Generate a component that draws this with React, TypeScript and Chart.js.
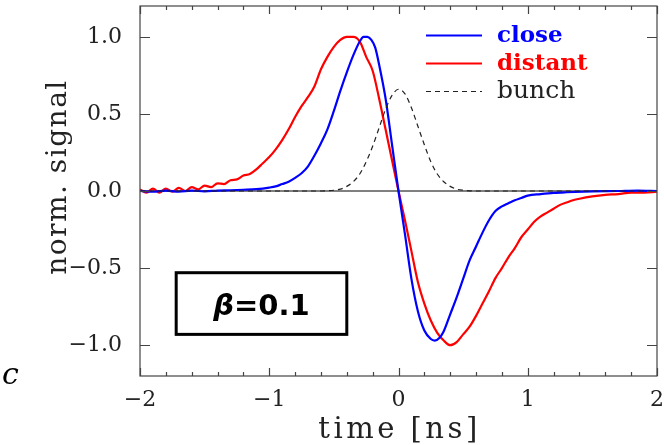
import React, { useEffect, useRef } from "react";
import { Chart, registerables } from "chart.js";
Chart.register(...registerables);

// ---- data ----
const closeTime = [-2.0, -1.9, -1.8, -1.7, -1.6, -1.5, -1.4, -1.3, -1.2, -1.1, -1.0, -0.95, -0.9, -0.85, -0.8, -0.75, -0.7, -0.65, -0.6, -0.55, -0.5, -0.45, -0.4, -0.35, -0.3, -0.27, -0.24, -0.21, -0.18, -0.15, -0.1, -0.05, 0.0, 0.05, 0.1, 0.15, 0.2, 0.25, 0.28, 0.32, 0.35, 0.4, 0.45, 0.5, 0.55, 0.6, 0.65, 0.7, 0.75, 0.8, 0.85, 0.9, 0.95, 1.0, 1.1, 1.2, 1.3, 1.5, 1.7, 1.85, 2.0];
const closeSignal = [0.0, -0.005, 0.003, -0.004, 0.002, -0.002, 0.003, 0.005, 0.008, 0.012, 0.022, 0.03, 0.045, 0.06, 0.085, 0.115, 0.16, 0.23, 0.31, 0.4, 0.52, 0.65, 0.77, 0.88, 0.97, 1.0, 1.0, 0.98, 0.93, 0.82, 0.6, 0.3, 0.0, -0.28, -0.57, -0.78, -0.905, -0.96, -0.97, -0.95, -0.91, -0.8, -0.69, -0.57, -0.45, -0.36, -0.27, -0.19, -0.13, -0.1, -0.08, -0.06, -0.045, -0.03, -0.02, -0.012, -0.008, -0.003, 0.0, 0.003, 0.0];

const distantTime = [-2.0, -1.95, -1.9, -1.85, -1.8, -1.75, -1.7, -1.65, -1.6, -1.55, -1.5, -1.45, -1.4, -1.35, -1.3, -1.25, -1.2, -1.15, -1.1, -1.05, -1.0, -0.95, -0.9, -0.85, -0.8, -0.75, -0.7, -0.65, -0.6, -0.55, -0.5, -0.45, -0.4, -0.35, -0.3, -0.25, -0.2, -0.15, -0.1, -0.05, 0.0, 0.05, 0.1, 0.15, 0.2, 0.25, 0.3, 0.35, 0.4, 0.45, 0.5, 0.55, 0.6, 0.65, 0.7, 0.75, 0.8, 0.85, 0.9, 0.95, 1.0, 1.05, 1.1, 1.15, 1.2, 1.25, 1.3, 1.35, 1.4, 1.5, 1.6, 1.7, 1.8, 1.9, 2.0];
const distantSignal = [0.01, -0.01, 0.015, -0.01, 0.015, -0.005, 0.02, 0.0, 0.025, 0.01, 0.035, 0.025, 0.05, 0.045, 0.07, 0.075, 0.1, 0.11, 0.14, 0.18, 0.22, 0.27, 0.33, 0.4, 0.48, 0.55, 0.61, 0.68, 0.79, 0.87, 0.935, 0.98, 1.0, 1.0, 0.97, 0.87, 0.78, 0.6, 0.4, 0.2, 0.0, -0.19, -0.39, -0.59, -0.73, -0.84, -0.92, -0.97, -1.0, -0.98, -0.93, -0.88, -0.81, -0.73, -0.65, -0.565, -0.5, -0.43, -0.37, -0.3, -0.25, -0.2, -0.165, -0.14, -0.115, -0.09, -0.075, -0.06, -0.05, -0.035, -0.025, -0.02, -0.01, -0.01, -0.005];

const bunchTime = [-2.0, -0.6, -0.5, -0.45, -0.4, -0.35, -0.3, -0.25, -0.2, -0.15, -0.1, -0.05, 0.0, 0.05, 0.1, 0.15, 0.2, 0.25, 0.3, 0.35, 0.4, 0.45, 0.5, 0.6, 2.0];
const bunchSignal = [0.0, 0.0, 0.005, 0.012, 0.03, 0.06, 0.11, 0.19, 0.29, 0.41, 0.53, 0.62, 0.66, 0.63, 0.54, 0.42, 0.3, 0.19, 0.11, 0.06, 0.03, 0.012, 0.005, 0.0, 0.0];

const xTickValues = [-2, -1, 0, 1, 2];
const xMinorTickValues = [-1.8, -1.6, -1.4, -1.2, -0.8, -0.6, -0.4, -0.2, 0.2, 0.4, 0.6, 0.8, 1.2, 1.4, 1.6, 1.8];
const yTickValues = [-1, -0.5, 0, 0.5, 1];

const seriesLabels = ["close", "distant", "bunch"];
const xTitle = "time [ns]";
const yTitle = "norm. signal";
const panelLabel = "c";
const betaLabel = "=0.1";

const SERIF = "'DejaVu Serif', serif";

const toPoints = (t: number[], v: number[]) => t.map((x, i) => ({ x, y: v[i] }));
const fmt = (v: number, digits: number) => {
  const s = Math.abs(v).toFixed(digits);
  return v < 0 ? "\u2212" + s : s;
};

const decorPlugin = {
  id: "decor",
  beforeDatasetsDraw(chart: any) {
    const { ctx, chartArea: a, scales } = chart;
    const y0 = scales.y.getPixelForValue(0);
    ctx.save();
    ctx.strokeStyle = "#000";
    ctx.lineWidth = 1;
    ctx.beginPath();
    ctx.moveTo(a.left, y0);
    ctx.lineTo(a.right, y0);
    ctx.stroke();
    ctx.restore();
  },
  afterDraw(chart: any) {
    const { ctx, chartArea: a, scales } = chart;
    const xs = scales.x;
    const ys = scales.y;
    ctx.save();
    // frame
    ctx.strokeStyle = "#444";
    ctx.lineWidth = 1.2;
    ctx.strokeRect(a.left, a.top, a.right - a.left, a.bottom - a.top);
    // ticks (inward)
    ctx.beginPath();
    const tickX = (v: number, len: number) => {
      const px = Math.round(xs.getPixelForValue(v)) + 0.5;
      ctx.moveTo(px, a.bottom);
      ctx.lineTo(px, a.bottom - len);
      ctx.moveTo(px, a.top);
      ctx.lineTo(px, a.top + len);
    };
    xTickValues.forEach((v) => tickX(v, 8));
    xMinorTickValues.forEach((v) => tickX(v, 4));
    yTickValues.forEach((v) => {
      const py = Math.round(ys.getPixelForValue(v)) + 0.5;
      ctx.moveTo(a.left, py);
      ctx.lineTo(a.left + 10, py);
      ctx.moveTo(a.right, py);
      ctx.lineTo(a.right - 10, py);
    });
    ctx.stroke();

    // legend
    const lx0 = a.right - 231;
    const lx1 = lx0 + 56;
    const tx = a.right - 160;
    const rows = [a.top + 29, a.top + 57, a.top + 85];
    const colors = ["#0000ff", "#ff0000", "#222"];
    rows.forEach((ry, i) => {
      ctx.beginPath();
      ctx.strokeStyle = colors[i];
      ctx.lineWidth = i === 2 ? 1.2 : 2;
      ctx.setLineDash(i === 2 ? [5, 4] : []);
      ctx.moveTo(lx0, ry + 0.5);
      ctx.lineTo(lx1, ry + 0.5);
      ctx.stroke();
      ctx.setLineDash([]);
      ctx.fillStyle = colors[i];
      ctx.font = (i < 2 ? "bold 23px " : "25px ") + SERIF;
      ctx.textBaseline = "alphabetic";
      ctx.textAlign = "left";
      ctx.fillText(seriesLabels[i], tx, ry + 7);
    });

    // beta box
    const bl = xs.getPixelForValue(-1.72);
    const br = xs.getPixelForValue(-0.40);
    const bt = ys.getPixelForValue(-0.53);
    const bb = ys.getPixelForValue(-0.93);
    ctx.fillStyle = "#fff";
    ctx.fillRect(bl, bt, br - bl, bb - bt);
    ctx.strokeStyle = "#000";
    ctx.lineWidth = 3;
    ctx.strokeRect(bl, bt, br - bl, bb - bt);
    ctx.fillStyle = "#000";
    ctx.textBaseline = "alphabetic";
    ctx.textAlign = "left";
    ctx.font = "italic bold 29px 'DejaVu Sans', sans-serif";
    const bw = ctx.measureText("\u03b2").width;
    ctx.font = "bold 29px 'DejaVu Sans', sans-serif";
    const rw = ctx.measureText(betaLabel).width;
    const startX = (bl + br) / 2 - (bw + rw) / 2;
    const base = (bt + bb) / 2 + 11;
    ctx.font = "italic bold 29px 'DejaVu Sans', sans-serif";
    ctx.fillText("\u03b2", startX, base);
    ctx.font = "bold 29px 'DejaVu Sans', sans-serif";
    ctx.fillText(betaLabel, startX + bw, base);

    // axis titles
    ctx.fillStyle = "#222";
    ctx.font = "29px " + SERIF;
    (ctx as any).letterSpacing = "3.5px";
    ctx.textAlign = "center";
    ctx.fillText(xTitle, (a.left + a.right) / 2 + 1, 438);
    ctx.save();
    ctx.font = "28px " + SERIF;
    (ctx as any).letterSpacing = "1.5px";
    ctx.translate(66, 177);
    ctx.rotate(-Math.PI / 2);
    ctx.fillText(yTitle, 0, 0);
    ctx.restore();
    (ctx as any).letterSpacing = "0px";

    // panel label
    ctx.font = "italic 30px " + SERIF;
    ctx.textAlign = "left";
    ctx.fillStyle = "#000";
    ctx.fillText(panelLabel, 2, 384);
    ctx.restore();
  },
};

export default function App() {
  const ref = useRef<HTMLCanvasElement>(null);
  useEffect(() => {
    const canvas = ref.current!;
    const chart = new Chart(canvas, {
      type: "line",
      data: {
        datasets: [
          {
            label: seriesLabels[2],
            data: toPoints(bunchTime, bunchSignal),
            borderColor: "#222",
            borderWidth: 1.2,
            borderDash: [5, 4],
            pointRadius: 0,
            cubicInterpolationMode: "monotone",
          },
          {
            label: seriesLabels[0],
            data: toPoints(closeTime, closeSignal),
            borderColor: "#0000ff",
            borderWidth: 2.2,
            pointRadius: 0,
            cubicInterpolationMode: "monotone",
          },
          {
            label: seriesLabels[1],
            data: toPoints(distantTime, distantSignal),
            borderColor: "#ff0000",
            borderWidth: 2.2,
            pointRadius: 0,
            cubicInterpolationMode: "monotone",
          },
        ],
      },
      options: {
        animation: false,
        responsive: false,
        devicePixelRatio: 1,
        layout: { padding: { top: 6, right: 7, left: 0, bottom: 0 } },
        plugins: { legend: { display: false }, tooltip: { enabled: false } },
        scales: {
          x: {
            type: "linear",
            min: -2,
            max: 2,
            grid: { display: false, drawTicks: false },
            border: { display: false },
            afterBuildTicks: (s: any) => {
              s.ticks = xTickValues.map((value) => ({ value }));
            },
            afterFit: (s: any) => {
              s.height = 69;
              s.paddingLeft = 0;
              s.paddingRight = 0;
              s.paddingTop = 0;
              s.paddingBottom = 0;
            },
            ticks: {
              autoSkip: false,
              maxRotation: 0,
              padding: 11,
              color: "#222",
              font: { family: SERIF, size: 22 },
              callback: (v: any) => fmt(Number(v), 0),
            },
          },
          y: {
            type: "linear",
            min: -1.2,
            max: 1.2,
            grid: { display: false, drawTicks: false },
            border: { display: false },
            afterBuildTicks: (s: any) => {
              s.ticks = yTickValues.map((value) => ({ value }));
            },
            afterFit: (s: any) => {
              s.width = 140;
              s.paddingTop = 0;
              s.paddingBottom = 0;
              s.paddingLeft = 0;
              s.paddingRight = 0;
            },
            ticks: {
              autoSkip: false,
              padding: 18,
              color: "#222",
              font: { family: SERIF, size: 22 },
              callback: (v: any) => fmt(Number(v), 1),
            },
          },
        },
      },
      plugins: [decorPlugin],
    } as any);
    return () => chart.destroy();
  }, []);
  return (
    <div style={{ position: "absolute", left: 0, top: 0, width: 664, height: 445, background: "#fff" }}>
      <canvas ref={ref} width={664} height={445} style={{ display: "block", width: 664, height: 445 }} />
    </div>
  );
}
